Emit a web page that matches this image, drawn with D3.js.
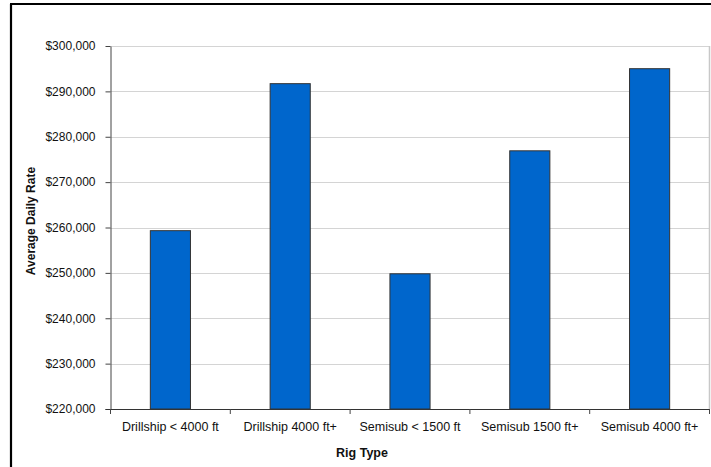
<!DOCTYPE html>
<html><head><meta charset="utf-8">
<script src="https://cdn.jsdelivr.net/npm/d3@7"></script>
<style>body{margin:0;background:#fff}svg{display:block}text{font-family:"Liberation Sans",Arial,sans-serif}</style>
</head><body>
<svg id="c" width="711" height="467"></svg>
<script>
const categories = ["Drillship < 4000 ft","Drillship 4000 ft+","Semisub < 1500 ft","Semisub 1500 ft+","Semisub 4000 ft+"];
const values = [259300, 291700, 249800, 276900, 295000];
const yTicks = [220000,230000,240000,250000,260000,270000,280000,290000,300000];
const yTitle = "Average Daily Rate";
const xTitle = "Rig Type";

const svg = d3.select("#c");
const L = 110.5, R = 709.5, T = 46, B = 409;
// outer frame
svg.append("line").attr("x1",11).attr("x2",11).attr("y1",4).attr("y2",467).attr("stroke","#000").attr("stroke-width",2.2);
svg.append("line").attr("x1",10).attr("x2",711).attr("y1",4).attr("y2",4).attr("stroke","#000").attr("stroke-width",2.2);

const x = d3.scaleBand().domain(categories).range([L,R]).paddingInner(0.665).paddingOuter(0.3325);
const y = d3.scaleLinear().domain([220000,300000]).range([B,T]);

// gridlines
svg.append("g").selectAll("line").data(yTicks.slice(1)).join("line")
  .attr("x1",L).attr("x2",R).attr("y1",d=>Math.round(y(d))+0.5).attr("y2",d=>Math.round(y(d))+0.5)
  .attr("stroke","#d4d4d4").attr("stroke-width",1.2);
// right border
svg.append("line").attr("x1",R).attr("x2",R).attr("y1",T).attr("y2",B).attr("stroke","#c8c8c8").attr("stroke-width",1.5);

// bars
svg.append("g").selectAll("rect").data(values).join("rect")
  .attr("x",(d,i)=>x(categories[i])).attr("width",x.bandwidth())
  .attr("y",d=>y(d)).attr("height",d=>B-y(d))
  .attr("fill","#0066CC").attr("stroke","#333").attr("stroke-width",1);

// y axis
const yAxis = d3.axisLeft(y).tickValues(yTicks).tickSize(5).tickSizeOuter(0)
  .tickFormat(d=>"$"+d3.format(",")(d));
const gy = svg.append("g").attr("transform",`translate(${L},0)`).call(yAxis);
gy.select(".domain").attr("stroke","#444");
gy.selectAll(".tick line").attr("stroke","#444");
gy.selectAll("text").attr("font-size",12).attr("fill","#111").attr("x",-15);

// x axis
const step = x.step();
const xTickPos = d3.range(categories.length+1).map(i=>L+i*step);
const gx = svg.append("g");
gx.append("line").attr("x1",L-5).attr("x2",R).attr("y1",B+0.5).attr("y2",B+0.5).attr("stroke","#333").attr("stroke-width",1.2);
gx.selectAll("line.t").data(xTickPos).join("line").attr("class","t")
  .attr("x1",d=>d).attr("x2",d=>d).attr("y1",B).attr("y2",B+5).attr("stroke","#444");
gx.selectAll("text").data(categories).join("text")
  .attr("x",d=>x(d)+x.bandwidth()/2).attr("y",431).attr("text-anchor","middle")
  .attr("font-size",12.5).attr("fill","#111").text(d=>d);

svg.append("text").attr("x",362).attr("y",457).attr("text-anchor","middle")
  .attr("font-size",12.5).attr("font-weight","bold").attr("fill","#111").text(xTitle);
svg.append("text").attr("transform",`translate(35,221) rotate(-90)`).attr("text-anchor","middle")
  .attr("font-size",12).attr("font-weight","bold").attr("fill","#111").text(yTitle);
</script>
</body></html>
